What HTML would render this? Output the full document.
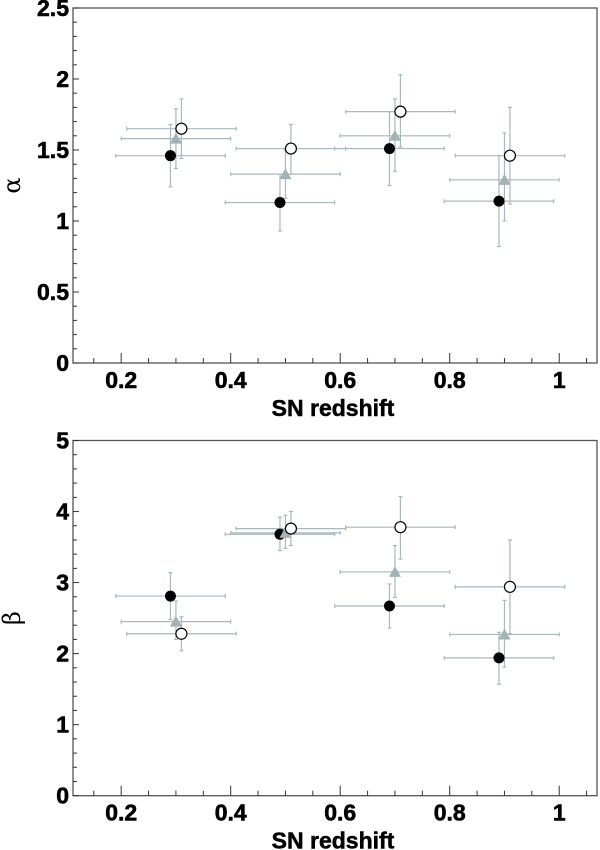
<!DOCTYPE html>
<html><head><meta charset="utf-8"><style>
body{margin:0;background:#fff;}
svg{display:block;font-family:"Liberation Sans",Arial,sans-serif;}
</style></head><body>
<svg id="c" width="600" height="850"></svg>
<script>
const xFilled=[0.29,0.49,0.69,0.89];
const xTri=[0.30,0.50,0.70,0.90];
const xOpen=[0.31,0.51,0.71,0.91];
const xErr=[0.1,0.1,0.1,0.1];
const alphaFilled=[1.46,1.13,1.51,1.14];
const alphaFilledLo=[1.24,0.93,1.25,0.82];
const alphaFilledHi=[1.68,1.33,1.77,1.46];
const alphaTri=[1.58,1.33,1.60,1.29];
const alphaTriLo=[1.37,1.16,1.35,1.00];
const alphaTriHi=[1.79,1.50,1.86,1.62];
const alphaOpen=[1.65,1.51,1.77,1.46];
const alphaOpenLo=[1.44,1.33,1.52,1.12];
const alphaOpenHi=[1.86,1.68,2.03,1.80];
const betaFilled=[2.81,3.68,2.67,1.94];
const betaFilledLo=[2.48,3.45,2.36,1.57];
const betaFilledHi=[3.14,3.92,2.98,2.30];
const betaTri=[2.45,3.70,3.15,2.27];
const betaTriLo=[2.20,3.48,2.79,1.81];
const betaTriHi=[2.74,3.95,3.52,2.75];
const betaOpen=[2.28,3.76,3.78,2.94];
const betaOpenLo=[2.04,3.52,3.33,2.28];
const betaOpenHi=[2.52,4.00,4.21,3.60];
const xTicks=[0.2,0.4,0.6,0.8,1];
const xTickLabels=["0.2","0.4","0.6","0.8","1"];
const alphaTicks=[0,0.5,1,1.5,2,2.5];
const alphaTickLabels=["0","0.5","1","1.5","2","2.5"];
const betaTicks=[0,1,2,3,4,5];
const betaTickLabels=["0","1","2","3","4","5"];

const NS="http://www.w3.org/2000/svg";
const svg=document.getElementById('c');
function mk(tag,attrs,parent){const e=document.createElementNS(NS,tag);for(const k in attrs)e.setAttribute(k,attrs[k]);(parent||svg).appendChild(e);return e;}
const X0=73,X1=597,XMIN=0.112,XMAX=1.069;
function sx(v){return X0+(v-XMIN)/(XMAX-XMIN)*(X1-X0);}

function panel(name,top,bot,ymax,yTicks,yLabels,minorStep,axisLabel,series){
  const g=mk('g',{});
  
  
  const sy=v=>bot-v/ymax*(bot-top);
  const fr=mk('rect',{x:X0,y:top,width:X1-X0,height:bot-top,fill:'none',stroke:'#555','stroke-width':1.3},g);
  
  
  for(let v=0;v<=ymax+1e-9;v+=minorStep){
    const maj=yTicks.some(t=>Math.abs(t-v)<1e-6);
    mk('line',{x1:X0,x2:X0+(maj?6:4),y1:sy(v),y2:sy(v),stroke:'#333','stroke-width':1},g);
  }
  yTicks.forEach((t,i)=>{
    const tx=mk('text',{x:X0-4,y:sy(t)+8,'text-anchor':'end','font-size':23,'font-weight':'bold',fill:'#000','stroke':'#000','stroke-width':0.6},g);
    tx.textContent=yLabels[i];
    
    
  });
  for(let k=3;k<=21;k++){
    const v=k*0.05;if(v<XMIN||v>XMAX)continue;
    const maj=k%4==0;
    mk('line',{x1:sx(v),x2:sx(v),y1:bot,y2:bot-(maj?10:5),stroke:'#333','stroke-width':1},g);
  }
  xTicks.forEach((t,i)=>{
    const tx=mk('text',{x:sx(t),y:bot+25,'text-anchor':'middle','font-size':23,'font-weight':'bold',fill:'#000','stroke':'#000','stroke-width':0.6},g);
    tx.textContent=xTickLabels[i];
    
    
  });
  const xl=mk('text',{x:333,y:bot+53,'text-anchor':'middle','font-size':23,'font-weight':'bold',fill:'#000','stroke':'#000','stroke-width':0.5},g);
  xl.textContent='SN redshift';
  
  
  const yl=mk('text',{x:20,y:(top+bot)/2,'text-anchor':'middle','font-size':24,fill:'#000','font-family':'"DejaVu Serif",serif',transform:`rotate(-90 20 ${(top+bot)/2})`},g);
  yl.textContent=axisLabel;
  
  
  series.forEach(s=>{
    s.x.forEach((xv,i)=>{
      const eb=mk('g',{stroke:'#a9b8bd','stroke-width':1.2},g);
      
      
      const cx=sx(xv),cy=sy(s.y[i]);
      const xa=sx(xv-xErr[i]),xb=sx(xv+xErr[i]);
      mk('line',{x1:xa,x2:xb,y1:cy,y2:cy},eb);
      mk('line',{x1:xa,x2:xa,y1:cy-2,y2:cy+2},eb);
      mk('line',{x1:xb,x2:xb,y1:cy-2,y2:cy+2},eb);
      const ya=sy(s.lo[i]),yb=sy(s.hi[i]);
      mk('line',{x1:cx,x2:cx,y1:ya,y2:yb},eb);
      mk('line',{x1:cx-2,x2:cx+2,y1:ya,y2:ya},eb);
      mk('line',{x1:cx-2,x2:cx+2,y1:yb,y2:yb},eb);
    });
  });
  series.forEach(s=>{
    s.x.forEach((xv,i)=>{
      const cx=sx(xv),cy=sy(s.y[i]);let m;
      if(s.kind=='filled') m=mk('circle',{cx,cy,r:5.5,fill:'#000'},g);
      else if(s.kind=='open') m=mk('circle',{cx,cy,r:5.5,fill:'#fff',stroke:'#000','stroke-width':1.2},g);
      else m=mk('polygon',{points:`${cx},${cy-6} ${cx-6},${cy+5} ${cx+6},${cy+5}`,fill:'#a3b2b7'},g);
      
      
    });
  });
}
panel('alpha-panel',8,363,2.5,alphaTicks,alphaTickLabels,0.1,'α',[
 {kind:'filled',x:xFilled,y:alphaFilled,lo:alphaFilledLo,hi:alphaFilledHi},
 {kind:'tri',x:xTri,y:alphaTri,lo:alphaTriLo,hi:alphaTriHi},
 {kind:'open',x:xOpen,y:alphaOpen,lo:alphaOpenLo,hi:alphaOpenHi}]);
panel('beta-panel',440.5,795.7,5,betaTicks,betaTickLabels,0.2,'β',[
 {kind:'filled',x:xFilled,y:betaFilled,lo:betaFilledLo,hi:betaFilledHi},
 {kind:'tri',x:xTri,y:betaTri,lo:betaTriLo,hi:betaTriHi},
 {kind:'open',x:xOpen,y:betaOpen,lo:betaOpenLo,hi:betaOpenHi}]);
</script>
</body></html>
